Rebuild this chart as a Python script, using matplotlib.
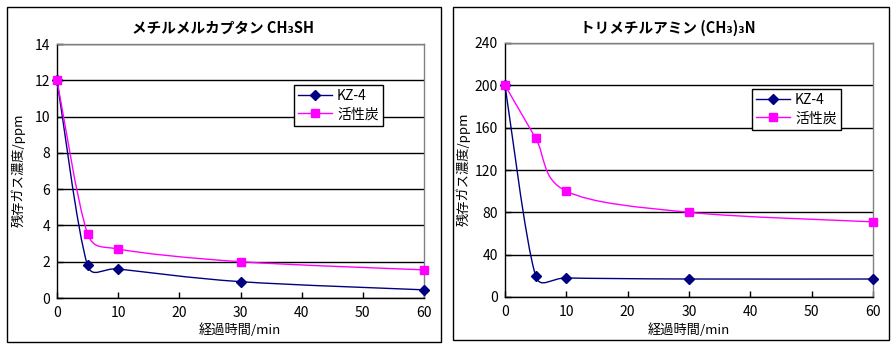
import numpy as np
import matplotlib
matplotlib.use("Agg")
import matplotlib.pyplot as plt
from matplotlib.path import Path
from matplotlib.patches import PathPatch, Rectangle
from matplotlib.lines import Line2D

plt.rcParams['font.family'] = ['Noto Sans CJK JP', 'DejaVu Sans']

# data
minutes = [0, 5, 10, 30, 60]
series_names = ['KZ-4', '活性炭']

mm_kz4 = [12, 1.8, 1.6, 0.9, 0.45]
mm_carbon = [12, 3.55, 2.7, 2.0, 1.55]

tma_kz4 = [200, 20, 18, 17, 17]
tma_carbon = [200, 150, 100, 80, 71]

titles = ['メチルメルカプタン CH₃SH', 'トリメチルアミン (CH₃)₃N']
ylabel = '残存ガス濃度/ppm'
xlabel = '経過時間/min'

NAVY = '#000080'
MAGENTA = '#FF00FF'
W, H = 896, 348


def px_rect(x0, y0, x1, y1):
    # pixel box (top-left origin) -> figure fraction [l, b, w, h]
    return [x0 / W, 1 - y1 / H, (x1 - x0) / W, (y1 - y0) / H]


def smooth_line(ax, xs, ys, color, k=0.5):
    # Excel-like smoothed line: Catmull-Rom bezier in screen space, tangent capped
    pts = ax.transData.transform(np.column_stack([xs, ys]))
    n = len(pts)
    verts = [pts[0]]
    codes = [Path.MOVETO]
    for i in range(n - 1):
        p0 = pts[max(i - 1, 0)]
        p1, p2 = pts[i], pts[i + 1]
        p3 = pts[min(i + 2, n - 1)]
        seg = np.hypot(*(p2 - p1))
        t1 = (p2 - p0) / 6
        t2 = (p3 - p1) / 6
        l1, l2 = np.hypot(*t1), np.hypot(*t2)
        if l1 > k * seg:
            t1 = t1 * k * seg / l1
        if l2 > k * seg:
            t2 = t2 * k * seg / l2
        verts += [p1 + t1, p2 - t2, p2]
        codes += [Path.CURVE4] * 3
    verts = ax.transData.inverted().transform(np.array(verts))
    ax.add_patch(PathPatch(Path(verts, codes), facecolor='none',
                           edgecolor=color, lw=1, clip_on=False, zorder=3))


fig = plt.figure(figsize=(W / 100, H / 100), dpi=100)

# chart frames
for box in [(7, 7, 441, 342), (453, 7, 889, 340)]:
    fig.patches.append(Rectangle(px_rect(*box)[:2], *px_rect(*box)[2:],
                                 transform=fig.transFigure, fill=False,
                                 edgecolor='black', lw=1))

panels = [
    dict(area=(57, 44, 424, 298), kz=mm_kz4, ac=mm_carbon, ymax=14, ystep=2,
         title_xy=(223, 28), ylab_xy=(18, 170), xlab_xy=(240, 330),
         leg_xy=(294, 85), title=titles[0]),
    dict(area=(505, 43, 873, 297), kz=tma_kz4, ac=tma_carbon, ymax=240, ystep=40,
         title_xy=(668, 28), ylab_xy=(463, 169), xlab_xy=(689, 330),
         leg_xy=(752, 89), title=titles[1]),
]

for p in panels:
    ax = fig.add_axes(px_rect(*p['area']))
    ax.set_xlim(0, 60)
    ax.set_ylim(0, p['ymax'])
    ax.set_xticks(range(0, 61, 10))
    ax.set_yticks(np.arange(0, p['ymax'] + 1, p['ystep']))
    ax.tick_params(direction='in', length=4, width=1, color='black',
                   labelsize=10)
    ax.tick_params(axis='x', pad=6)
    ax.tick_params(axis='y', pad=5)
    ax.yaxis.grid(True, color='black', lw=1)
    for s in ['left', 'bottom']:
        ax.spines[s].set_color('black')
        ax.spines[s].set_linewidth(1)
    for s in ['top', 'right']:
        ax.spines[s].set_color('#808080')
        ax.spines[s].set_linewidth(1)

    smooth_line(ax, minutes, p['kz'], NAVY)
    smooth_line(ax, minutes, p['ac'], MAGENTA)
    ax.plot(minutes, p['kz'], ls='none', marker='D', ms=5, color=NAVY,
            clip_on=False, zorder=4)
    ax.plot(minutes, p['ac'], ls='none', marker='s', ms=6, color=MAGENTA,
            clip_on=False, zorder=4)

    handles = [Line2D([], [], color=NAVY, marker='D', ms=5, lw=1),
               Line2D([], [], color=MAGENTA, marker='s', ms=6, lw=1)]
    lx, ly = p['leg_xy']
    leg = fig.legend(handles, series_names, loc='upper left',
                     bbox_to_anchor=(lx / W, 1 - ly / H), fontsize=10,
                     frameon=True, fancybox=False, framealpha=1,
                     edgecolor='black', borderpad=0.3, labelspacing=0.3,
                     handlelength=2.4, handletextpad=0.4, borderaxespad=0)
    leg.get_frame().set_linewidth(1)

    tx, ty = p['title_xy']
    fig.text(tx / W, 1 - ty / H, p['title'], ha='center', va='center',
             fontsize=10.5, fontweight='bold')
    yx, yy = p['ylab_xy']
    fig.text(yx / W, 1 - yy / H, ylabel, ha='center', va='center',
             rotation=90, fontsize=9.5)
    xx, xy = p['xlab_xy']
    fig.text(xx / W, 1 - xy / H, xlabel, ha='center', va='center',
             fontsize=9.5)

fig.savefig('out.png', dpi=100)
